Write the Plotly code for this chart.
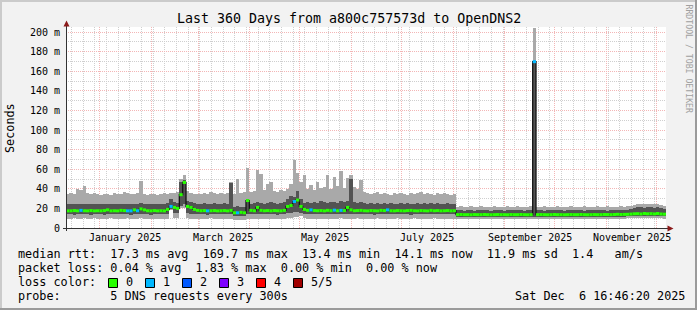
import plotly.graph_objects as go
import pandas as pd

TITLE = "Last 360 Days from a800c757573d to OpenDNS2"
START = "2024-12-11 16:46:20"
END = "2025-12-06 16:46:20"
BIN_DAYS = 2

# smoke: max ping (top of light band)
hi = [35, 36, 35, 40, 39, 43, 36, 35, 36, 35,
      34, 35, 35, 34, 36, 35, 35, 37, 36, 35,
      35, 36, 48, 35, 34, 35, 35, 34, 35, 36,
      35, 36, 36, 37, 50, 54, 38, 36, 35, 35,
      35, 36, 35, 37, 36, 35, 36, 35, 36, 47,
      35, 50, 36, 37, 61, 37, 38, 59, 55, 39,
      45, 47, 38, 37, 39, 38, 40, 45, 69, 56,
      47, 54, 40, 44, 39, 47, 41, 42, 54, 40,
      52, 43, 58, 41, 51, 54, 42, 40, 49, 37,
      36, 35, 36, 37, 35, 36, 35, 34, 36, 35,
      36, 35, 34, 36, 35, 36, 37, 35, 36, 35,
      34, 36, 35, 36, 35, 34, 35, 21, 22, 21,
      21, 22, 21, 21, 22, 21, 21, 21, 22, 21,
      21, 21, 22, 21, 21, 22, 21, 21, 21, 22,
      204, 21, 21, 22, 21, 21, 21, 22, 21, 21,
      21, 22, 21, 21, 21, 22, 21, 21, 21, 22,
      21, 21, 22, 21, 21, 21, 22, 21, 22, 22,
      23, 24, 25, 24, 25, 24, 25, 24, 23, 22]

# upper quartile ping (top of dark band)
q3 = [24, 25, 24, 25, 24, 25, 24, 24, 25, 24,
      24, 25, 24, 24, 25, 24, 25, 24, 25, 24,
      25, 24, 26, 25, 24, 25, 24, 25, 24, 25,
      26, 30, 27, 26, 47, 49, 28, 27, 26, 25,
      25, 26, 25, 25, 26, 25, 25, 26, 25, 46,
      21, 22, 21, 21, 30, 25, 26, 27, 26, 25,
      26, 27, 26, 25, 26, 27, 30, 33, 32, 38,
      30, 26, 27, 26, 27, 26, 28, 27, 26, 27,
      27, 26, 28, 27, 28, 50, 27, 26, 27, 26,
      25, 26, 25, 26, 25, 26, 25, 26, 25, 25,
      26, 25, 26, 25, 25, 26, 25, 26, 25, 26,
      25, 26, 25, 25, 26, 25, 25, 18, 18, 17.5,
      18, 18, 17.5, 18, 18.5, 18, 18, 17.5, 18, 18,
      18, 17.5, 18, 18, 18.5, 18, 18, 17.5, 18, 18,
      170, 18, 18, 17.5, 18, 18, 18.5, 18, 18, 17.5,
      18, 18, 18.5, 18, 18, 17.5, 18, 18, 18, 18.5,
      18, 18, 17.5, 18, 18, 18.5, 18, 18, 18.5, 19,
      20, 21, 21, 20.5, 21, 21, 20.5, 21, 20, 19]

# median rtt (ms)
med = [17.5, 17.5, 17.8, 17.5, 18, 17.6, 17.5, 17.8, 17.5, 17.6,
       17.5, 17.8, 18.5, 17.5, 17.6, 17.5, 18, 17.8, 17.5, 17.5,
       18.5, 17.6, 19.5, 18.5, 17.6, 17.5, 17.8, 17.5, 17.6, 17.5,
       19, 22, 21, 20, 34, 46.5, 22, 21, 19, 18,
       17.6, 17.8, 17.5, 17.6, 17.8, 17.5, 17.6, 17.8, 17.5, 18,
       15.5, 15.5, 16, 15.5, 28, 18, 17.6, 21, 18, 17.6,
       17.8, 17.5, 17.8, 17.6, 17.5, 18, 22, 23, 27, 28.5,
       22, 19, 18, 18.5, 17.8, 17.6, 17.8, 17.5, 18, 17.6,
       18.2, 17.6, 18, 17.8, 21, 18.5, 17.6, 17.8, 18, 17.6,
       17.5, 17.8, 17.6, 17.5, 18, 17.8, 18.5, 17.6, 17.5, 17.8,
       17.6, 17.5, 17.8, 18, 17.6, 17.5, 17.8, 17.6, 17.5, 18,
       17.6, 17.8, 17.5, 17.6, 17.8, 17.5, 17.6, 13.6, 13.8, 13.6,
       13.6, 13.5, 13.7, 13.6, 13.6, 13.8, 13.6, 13.5, 13.6, 13.7,
       13.6, 13.6, 13.5, 13.7, 13.6, 13.6, 13.8, 13.6, 13.5, 13.6,
       169.7, 13.6, 13.7, 13.6, 13.5, 13.6, 13.8, 13.6, 13.6, 13.5,
       13.6, 13.7, 13.6, 13.6, 13.8, 13.6, 13.5, 13.6, 13.7, 13.6,
       13.6, 13.8, 13.7, 13.6, 13.8, 14.0, 13.8, 13.9, 14.0, 14.2,
       14.5, 14.6, 14.3, 14.8, 14.5, 14.6, 14.4, 14.8, 14.3, 14.1]

# lower quartile ping (bottom of dark band)
q1 = [14, 14, 13.5, 14, 14, 14.5, 14, 13.5, 14, 14,
      14, 13.5, 14, 14, 14, 14, 14.5, 14, 14, 13.5,
      14, 14, 14.5, 14, 14, 13.5, 14, 14, 14, 14,
      14, 19, 15, 15, 22, 24, 15, 14.5, 14, 14,
      14, 14, 13.5, 14, 14, 14, 14, 14.5, 14, 14.5,
      12.5, 12.5, 12.5, 12.5, 14, 14, 14, 14.5, 14, 14,
      14, 14, 14, 13.5, 14, 14, 15, 15.5, 16, 16,
      15, 14.5, 14, 14, 14, 14, 14, 14, 14, 14,
      14, 14, 14.5, 14, 14, 14.5, 14, 14, 14, 14,
      14, 14, 13.5, 14, 14, 14, 14, 14, 14, 14,
      14, 14, 14, 13.5, 14, 14, 14, 14, 14, 14,
      14, 14, 14, 14, 14, 14, 14, 11.2, 11.2, 11.3,
      11.2, 11.2, 11.3, 11.2, 11.2, 11.2, 11.3, 11.2, 11.2, 11.2,
      11.2, 11.3, 11.2, 11.2, 11.2, 11.2, 11.3, 11.2, 11.2, 11.2,
      11.0, 11.2, 11.2, 11.3, 11.2, 11.2, 11.2, 11.2, 11.3, 11.2,
      11.2, 11.2, 11.2, 11.3, 11.2, 11.2, 11.2, 11.2, 11.3, 11.2,
      11.2, 11.2, 11.3, 11.2, 11.2, 11.4, 11.5, 11.6, 11.8, 11.8,
      12.0, 12.2, 12.0, 12.3, 12.1, 12.2, 12.0, 12.3, 12.0, 11.8]

# min ping (bottom of light band)
lo = [9.5, 9.5, 9.8, 9.5, 9.5, 10, 9.5, 9.5, 9.8, 9.5,
      9.5, 9.5, 9.5, 9.8, 9.5, 9.5, 9.5, 9.5, 9.8, 9.5,
      9.5, 9.5, 10, 9.5, 9.5, 9.5, 9.5, 9.5, 9, 9,
      9.5, 18, 10, 10, 20, 20, 10, 9.5, 9.5, 9.5,
      9.5, 9.5, 9.5, 9.8, 9.5, 9.5, 9.5, 9.5, 9.5, 9.5,
      8.5, 8.5, 8.5, 8.5, 9.5, 9.5, 9.5, 9.5, 9.5, 9.5,
      9.5, 9.5, 9.5, 9.5, 9.5, 9.5, 10, 10, 11, 11,
      12, 10, 9.5, 9.5, 9.5, 9.5, 9.5, 9.5, 9.5, 9.5,
      9.5, 9.5, 9.8, 9.5, 9.5, 9.5, 9.5, 9.8, 9.5, 9.5,
      9.5, 9.5, 9.5, 9.8, 9.5, 9.5, 9.5, 9.5, 9.5, 9.8,
      9.5, 9.5, 9.5, 9.5, 9.8, 9.5, 9.5, 9.5, 9.5, 9.5,
      9.8, 9.5, 9.5, 9.5, 9.5, 9.5, 9.5, 9.3, 9.3, 9.2,
      9.3, 9.3, 9.3, 9.2, 9.3, 9.3, 9.3, 9.3, 9.2, 9.3,
      9.3, 9.3, 9.2, 9.3, 9.3, 9.3, 9.3, 9.2, 9.3, 9.3,
      9.0, 9.3, 9.3, 9.3, 9.2, 9.3, 9.3, 9.3, 9.3, 9.2,
      9.3, 9.3, 9.3, 9.3, 9.2, 9.3, 9.3, 9.3, 9.3, 9.3,
      9.3, 9.2, 9.3, 9.3, 9.3, 9.4, 9.5, 9.6, 9.8, 9.8,
      10.0, 10.0, 9.8, 10.0, 10.0, 9.8, 10.0, 10.0, 9.8, 9.6]

# lost requests per step (index into loss colours)
loss = [0, 0, 0, 0, 1, 0, 0, 0, 0, 0,  0, 0, 0, 0, 0, 0, 0, 0, 1, 1,
        0, 1, 0, 0, 0, 0, 0, 0, 0, 0,  0, 1, 0, 0, 0, 0, 0, 0, 0, 0,
        0, 0, 1, 0, 0, 0, 0, 0, 0, 0,  0, 1, 0, 0, 0, 0, 0, 0, 0, 0,
        0, 0, 0, 0, 0, 0, 0, 0, 1, 0,  0, 0, 0, 1, 0, 0, 0, 0, 0, 0,
        1, 0, 1, 0, 0, 0, 0, 0, 0, 0,  0, 0, 0, 0, 0, 0, 1, 0, 0, 0,
        0, 0, 0, 0, 0, 0, 0, 0, 0, 0,  0, 0, 0, 0, 0, 0, 0, 0, 0, 0,
        0, 0, 0, 0, 0, 0, 0, 0, 0, 0,  0, 0, 0, 0, 0, 0, 0, 0, 0, 0,
        1, 0, 0, 0, 0, 0, 0, 0, 0, 0,  0, 0, 0, 0, 0, 0, 0, 0, 0, 0,
        0, 0, 0, 0, 0, 0, 0, 0, 0, 0,  0, 0, 0, 0, 0, 0, 0, 0, 0, 0]

y_ticks = [0, 20, 40, 60, 80, 100, 120, 140, 160, 180, 200]
y_tick_labels = ["0", "20 m", "40 m", "60 m", "80 m", "100 m", "120 m",
                 "140 m", "160 m", "180 m", "200 m"]
x_label_dates = ["2025-01-16", "2025-03-16", "2025-05-16",
                 "2025-07-16", "2025-09-16", "2025-11-16"]
x_labels = ["January 2025", "March 2025", "May 2025",
            "July 2025", "September 2025", "November 2025"]
loss_labels = ["0", "1", "2", "3", "4", "5/5"]
loss_colors = ["#26ff00", "#00b8ff", "#0059ff", "#7e00ff", "#ff0000", "#a10000"]
legend_lines = [
    "median rtt:  17.3 ms avg  169.7 ms max  13.4 ms min  14.1 ms now  11.9 ms sd  1.4   am/s",
    "packet loss: 0.04 % avg  1.83 % max  0.00 % min  0.00 % now",
    "loss color:",
    "probe:       5 DNS requests every 300s",
]
timestamp = "Sat Dec  6 16:46:20 2025"
y_title = "Seconds"
credit = "RRDTOOL / TOBI OETIKER"

# ---------------- geometry / style ----------------
W, H = 697, 310
L, R, T, B = 66, 666, 27, 228
BG = "#f2f2f2"
LIGHT = "#a9a9a9"
DARK = "#535353"
MAJOR = "#f3b6b6"
MINOR = "#cfcfcf"
MONO = "DejaVu Sans Mono"


def px(x):
    return (x - L) / (R - L)


def py(y):
    return (B - y) / (B - T)


def nb(s):
    return s.replace(" ", "\u00a0")


start = pd.Timestamp(START)
end = pd.Timestamp(END)
step = pd.Timedelta(days=BIN_DAYS)
n = len(hi)
fmt = "%Y-%m-%d %H:%M:%S"
x0s = [start + step * i for i in range(n)]
xc = [(t + step / 2).strftime(fmt) for t in x0s]
wms = step.total_seconds() * 1000

fig = go.Figure()
fig.add_trace(go.Bar(x=xc, base=lo, y=[h - l for h, l in zip(hi, lo)], width=wms,
                     marker=dict(color=LIGHT, line=dict(width=0)), hoverinfo="skip"))
fig.add_trace(go.Bar(x=xc, base=q1, y=[h - l for h, l in zip(q3, q1)], width=wms,
                     marker=dict(color=DARK, line=dict(width=0)), hoverinfo="skip"))
fig.add_trace(go.Scatter(x=[t.strftime(fmt) for t in x0s] + [end.strftime(fmt)],
                         y=med + [med[-1]], mode="lines",
                         line=dict(color="#151515", width=1.3, shape="hv"), hoverinfo="skip"))
for level, color in enumerate(loss_colors):
    xs, ys = [], []
    for i in range(n):
        if loss[i] == level:
            xs += [x0s[i].strftime(fmt), (x0s[i] + step).strftime(fmt), None]
            ys += [med[i], med[i], None]
    if xs:
        fig.add_trace(go.Scatter(x=xs, y=ys, mode="lines",
                                 line=dict(color=color, width=3), hoverinfo="skip"))

ann = []
ann.append(dict(text=nb(TITLE), x=px(W / 2), y=py(18.5), xref="paper", yref="paper",
                xanchor="center", yanchor="middle", showarrow=False,
                font=dict(family=MONO, size=13.3, color="#000")))
for d, t in zip(x_label_dates, x_labels):
    ann.append(dict(text=nb(t), x=d, y=py(237.5), xref="x", yref="paper",
                    xanchor="center", yanchor="middle", showarrow=False,
                    font=dict(family=MONO, size=10, color="#000")))
ann.append(dict(text=y_title, x=px(10), y=py(128), xref="paper", yref="paper",
                textangle=-90, xanchor="center", yanchor="middle", showarrow=False,
                font=dict(family=MONO, size=11.8, color="#000")))
ann.append(dict(text=nb(credit), x=px(688.5), y=py(59), xref="paper", yref="paper",
                textangle=90, xanchor="center", yanchor="middle", showarrow=False,
                font=dict(family=MONO, size=8.2, color="#a0a0a0")))
for k, line in enumerate(legend_lines):
    ann.append(dict(text=nb(line), x=px(16), y=py(254 + 14 * k), xref="paper", yref="paper",
                    xanchor="left", yanchor="middle", showarrow=False,
                    font=dict(family=MONO, size=11.8, color="#000")))
ann.append(dict(text=nb(timestamp), x=px(513), y=py(296), xref="paper", yref="paper",
                xanchor="left", yanchor="middle", showarrow=False,
                font=dict(family=MONO, size=11.8, color="#000")))

shapes = []
for k, (lab, col) in enumerate(zip(loss_labels, loss_colors)):
    bx = 108 + 37 * k
    shapes.append(dict(type="rect", xref="paper", yref="paper",
                       x0=px(bx + 0.5), x1=px(bx + 9.5), y0=py(278.5), y1=py(287.5),
                       fillcolor=col, line=dict(color="#000", width=1)))
    ann.append(dict(text=lab, x=px(bx + 16), y=py(282), xref="paper", yref="paper",
                    xanchor="left", yanchor="middle", showarrow=False,
                    font=dict(family=MONO, size=11.8, color="#000")))

AX = "#333333"
ARROW = "#8b1a1a"
shapes.append(dict(type="line", xref="paper", yref="paper", x0=px(66.5), x1=px(66.5),
                   y0=py(231), y1=py(24), line=dict(color=AX, width=1)))
shapes.append(dict(type="line", xref="paper", yref="paper", x0=px(63), x1=px(669),
                   y0=py(228.5), y1=py(228.5), line=dict(color=AX, width=1)))
shapes.append(dict(type="path", xref="paper", yref="paper",
                   path="M {} {} L {} {} L {} {} Z".format(px(63.5), py(26.5), px(69.5), py(26.5), px(66.5), py(20.5)),
                   fillcolor=ARROW, line=dict(color=ARROW, width=0)))
shapes.append(dict(type="path", xref="paper", yref="paper",
                   path="M {} {} L {} {} L {} {} Z".format(px(667.5), py(225.5), px(667.5), py(231.5), px(673.5), py(228.5)),
                   fillcolor=ARROW, line=dict(color=ARROW, width=0)))
shapes.append(dict(type="rect", xref="paper", yref="paper", x0=px(0), x1=px(W), y0=py(0), y1=py(2),
                   fillcolor="#cbcbcb", line=dict(width=0)))
shapes.append(dict(type="rect", xref="paper", yref="paper", x0=px(0), x1=px(2), y0=py(0), y1=py(H),
                   fillcolor="#cbcbcb", line=dict(width=0)))
shapes.append(dict(type="rect", xref="paper", yref="paper", x0=px(0), x1=px(W), y0=py(H - 2), y1=py(H),
                   fillcolor="#9b9b9b", line=dict(width=0)))
shapes.append(dict(type="rect", xref="paper", yref="paper", x0=px(W - 2), x1=px(W), y0=py(0), y1=py(H),
                   fillcolor="#9b9b9b", line=dict(width=0)))

fig.update_layout(
    width=W, height=H,
    margin=dict(l=L, r=W - R, t=T, b=H - B, pad=0),
    paper_bgcolor=BG, plot_bgcolor="#ffffff",
    barmode="overlay", bargap=0, showlegend=False,
    annotations=ann, shapes=shapes,
    xaxis=dict(type="date", range=[start.strftime(fmt), end.strftime(fmt)],
               showgrid=True, gridcolor=MAJOR, griddash="1px,1px", gridwidth=1,
               dtick="M1", tick0="2025-01-01", showticklabels=False, ticks="",
               showline=False, zeroline=False, fixedrange=True,
               minor=dict(dtick=7 * 86400000, tick0="2024-12-22", showgrid=True,
                          gridcolor=MINOR, griddash="1px,1px", gridwidth=1)),
    yaxis=dict(range=[0, (B - T) / 0.98], tickmode="array", tickvals=y_ticks,
               ticktext=[nb(t) for t in y_tick_labels],
               showgrid=True, gridcolor=MAJOR, griddash="1px,1px", gridwidth=1,
               zeroline=False, showline=False, ticks="", ticklabelstandoff=5,
               tickfont=dict(family=MONO, size=10, color="#000"), fixedrange=True,
               minor=dict(dtick=10, tick0=0, showgrid=True, gridcolor=MINOR,
                          griddash="1px,1px", gridwidth=1)),
)

fig.write_html("out.html")
